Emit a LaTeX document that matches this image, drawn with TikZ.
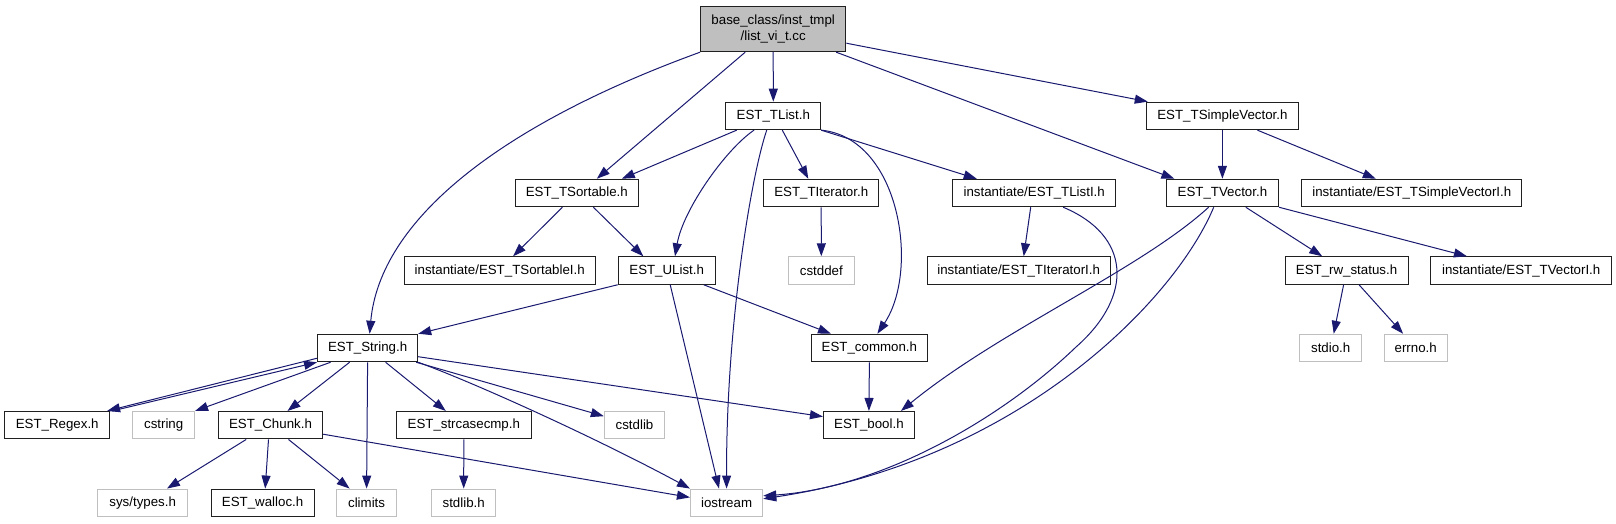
\documentclass[tikz,border=0pt]{standalone}
\usepackage{fontspec}
\setmainfont{Liberation Sans}
\usetikzlibrary{arrows.meta}
\definecolor{edgeblue}{HTML}{191970}
\definecolor{greyline}{HTML}{BFBFBF}
\definecolor{rootfill}{HTML}{BFBFBF}
\definecolor{boxline}{HTML}{202020}
\tikzset{
  box/.style={draw=boxline, line width=1pt, inner sep=0pt, minimum height=27.5pt, font=\fontsize{13.3}{16}\selectfont, text=black},
  gbox/.style={box, draw=greyline},
  rootbox/.style={box, fill=rootfill, minimum height=45pt, align=center},
  edge/.style={draw=edgeblue, line width=1pt, -{Triangle[length=13pt,width=9pt]}},
}
\begin{document}
\begin{tikzpicture}[x=1pt,y=-1pt]
\useasboundingbox (0,0) rectangle (1616,523);
% row 0
\node[rootbox, minimum width=145.3pt] (root) at (773.2,29.2) {base\_class/inst\_tmpl\\/list\_vi\_t.cc};
% row 1
\node[box, minimum width=94.7pt] (tlist) at (773.3,115.9) {EST\_TList.h};
\node[box, minimum width=152.3pt] (tsv) at (1222.4,115.9) {EST\_TSimpleVector.h};
% row 2
\node[box, minimum width=123.3pt] (tsort) at (576.8,193) {EST\_TSortable.h};
\node[box, minimum width=114.7pt] (titer) at (821.2,193) {EST\_TIterator.h};
\node[box, minimum width=163.4pt] (tlisti) at (1034.2,193) {instantiate/EST\_TListI.h};
\node[box, minimum width=112.3pt] (tvec) at (1222.4,193) {EST\_TVector.h};
\node[box, minimum width=220.3pt] (tsvi) at (1411.8,193) {instantiate/EST\_TSimpleVectorI.h};
% row 3
\node[box, minimum width=190.8pt] (tsorti) at (499.7,270.5) {instantiate/EST\_TSortableI.h};
\node[box, minimum width=97pt] (ulist) at (666.7,270.5) {EST\_UList.h};
\node[gbox, minimum width=65.4pt] (cstddef) at (821.3,270.5) {cstddef};
\node[box, minimum width=182.7pt] (titeri) at (1018.7,270.5) {instantiate/EST\_TIteratorI.h};
\node[box, minimum width=123pt] (rw) at (1346.5,270.5) {EST\_rw\_status.h};
\node[box, minimum width=180.5pt] (tveci) at (1521.2,270.5) {instantiate/EST\_TVectorI.h};
% row 4
\node[box, minimum width=100.2pt] (string) at (367.6,348) {EST\_String.h};
\node[box, minimum width=116pt] (common) at (869.4,348) {EST\_common.h};
\node[gbox, minimum width=61.7pt] (stdio) at (1330.7,348) {stdio.h};
\node[gbox, minimum width=63pt] (errno) at (1415.7,348) {errno.h};
% row 5
\node[box, minimum width=104.7pt] (regex) at (57.2,425.2) {EST\_Regex.h};
\node[gbox, minimum width=61.7pt] (cstring) at (163.7,425.2) {cstring};
\node[box, minimum width=104.4pt] (chunk) at (270.5,425.2) {EST\_Chunk.h};
\node[box, minimum width=134.9pt] (strcase) at (463.8,425.2) {EST\_strcasecmp.h};
\node[gbox, minimum width=60.3pt] (cstdlib) at (634.5,425.2) {cstdlib};
\node[box, minimum width=90.9pt] (bool) at (868.9,425.2) {EST\_bool.h};
% row 6
\node[gbox, minimum width=90.5pt] (systypes) at (142.7,502.8) {sys/types.h};
\node[box, minimum width=102.9pt] (walloc) at (262.6,502.8) {EST\_walloc.h};
\node[gbox, minimum width=60.3pt] (climits) at (366.6,502.8) {climits};
\node[gbox, minimum width=64.4pt] (stdlib) at (463.7,502.8) {stdlib.h};
\node[gbox, minimum width=72.3pt] (iostream) at (726.6,502.8) {iostream};

% edges from root
\draw[edge] (root.south west) .. controls (500,125) and (380,220) .. ([xshift=2pt]string.north);
\draw[edge] ([xshift=-28pt]root.south) -- ([xshift=20pt]tsort.north);
\draw[edge] (root.south) -- (tlist.north);
\draw[edge] ([xshift=63pt]root.south) -- ([xshift=-48pt]tvec.north);
\draw[edge] ([yshift=-14pt]root.east) -- ([xshift=2pt]tsv.north west);
% edges from tlist
\draw[edge] ([xshift=-36.6pt]tlist.south) -- ([xshift=45pt]tsort.north);
\draw[edge] ([xshift=-19.3pt]tlist.south) .. controls (725,150) and (683,210) .. ([xshift=8.3pt]ulist.north);
\draw[edge] ([xshift=-6.6pt]tlist.south) .. controls (750,180) and (726,330) .. (iostream.north);
\draw[edge] ([xshift=9pt]tlist.south) -- ([xshift=-12.9pt]titer.north);
\draw[edge] (tlist.south east) .. controls (900,138) and (920,270) .. ([xshift=8pt]common.north);
\draw[edge] (tlist.south east) -- ([xshift=-57.5pt]tlisti.north);
% tsort
\draw[edge] ([xshift=-14.4pt]tsort.south) -- ([xshift=13.4pt]tsorti.north);
\draw[edge] ([xshift=16.6pt]tsort.south) -- ([xshift=-23.4pt]ulist.north);
% titer
\draw[edge] (titer.south) -- (cstddef.north);
% tlisti
\draw[edge] ([xshift=-3.5pt]tlisti.south) -- ([xshift=5pt]titeri.north);
\draw[edge] ([xshift=29pt]tlisti.south) .. controls (1130,235) and (1135,295) .. (1076,347) .. controls (1000,420) and (880,488) .. ([yshift=7pt]iostream.east);
% tsv
\draw[edge] (tsv.south) -- (tvec.north);
\draw[edge] ([xshift=35pt]tsv.south) -- ([xshift=-36pt]tsvi.north);
% tvec
\draw[edge] ([xshift=-13.8pt]tvec.south) .. controls (1140,270) and (1000,330) .. ([xshift=32pt]bool.north);
\draw[edge] ([xshift=-8.7pt]tvec.south) .. controls (1175,300) and (1020,460) .. ([yshift=4pt]iostream.east);
\draw[edge] ([xshift=23.4pt]tvec.south) -- ([xshift=-24.3pt]rw.north);
\draw[edge] (tvec.south east) -- ([xshift=-54.3pt]tveci.north);
% rw
\draw[edge] ([xshift=-2.9pt]rw.south) -- ([xshift=3pt]stdio.north);
\draw[edge] ([xshift=12.5pt]rw.south) -- ([xshift=-12.6pt]errno.north);
% ulist
\draw[edge] (ulist.south west) -- (string.north east);
\draw[edge] ([xshift=3.5pt]ulist.south) -- ([xshift=-7.6pt]iostream.north);
\draw[edge] ([xshift=37pt]ulist.south) -- ([xshift=-38.4pt]common.north);
% common
\draw[edge] (common.south) -- (bool.north);
% string
\draw[edge] ([yshift=4pt]string.south west) -- ([xshift=-3pt]regex.north east);
\draw[edge] ([xshift=2pt]regex.north east) -- (string.south west);
\draw[edge] ([xshift=-37pt]string.south) -- (cstring.north east);
\draw[edge] ([xshift=-18pt]string.south) -- ([xshift=17pt]chunk.north);
\draw[edge] (string.south) -- (climits.north);
\draw[edge] ([xshift=18pt]string.south) -- ([xshift=-18pt]strcase.north);
\draw[edge] ([xshift=-2pt]string.south east) -- ([yshift=9pt]cstdlib.west);
\draw[edge] (string.south east) .. controls (480,385) and (600,440) .. (iostream.north west);
\draw[edge] ([yshift=-8.7pt]string.east) -- ([yshift=8.6pt]bool.west);
% chunk
\draw[edge] ([xshift=-24.3pt]chunk.south) -- ([xshift=24.3pt]systypes.north);
\draw[edge] ([xshift=-2pt]chunk.south) -- ([xshift=2.6pt]walloc.north);
\draw[edge] ([xshift=18pt]chunk.south) -- ([xshift=-17pt]climits.north);
\draw[edge] ([yshift=-9pt]chunk.east) -- ([yshift=5.4pt]iostream.west);
% strcasecmp
\draw[edge] (strcase.south) -- (stdlib.north);
\end{tikzpicture}
\end{document}
